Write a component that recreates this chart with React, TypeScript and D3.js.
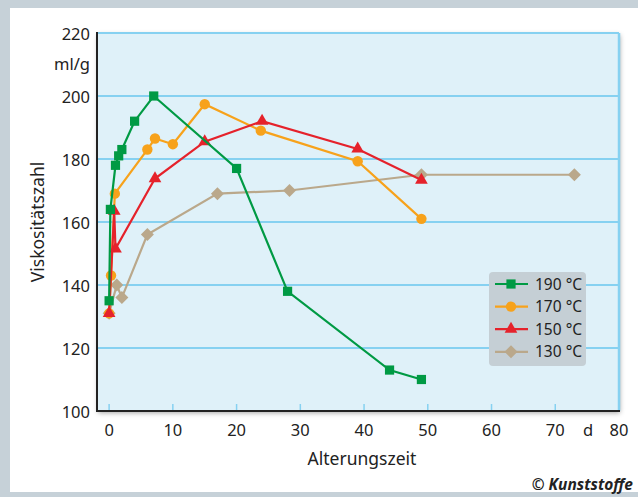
import * as d3 from "d3";

type Pt = [number, number];

const xTicks = [0, 10, 20, 30, 40, 50, 60, 70, 80];
const yTicks = [100, 120, 140, 160, 180, 200, 220];

// Alterungszeit (d), Viskositätszahl (ml/g)
const s190: Pt[] = [[0, 135], [0.2, 164], [1, 178], [1.5, 181], [2, 183], [4, 192], [7, 200], [20, 177], [28, 138], [44, 113], [49, 110]];
const s170: Pt[] = [[0, 131], [0.3, 143], [0.9, 169], [6, 183], [7.2, 186.5], [10, 184.7], [15, 197.4], [23.8, 189], [39, 179.3], [49, 161]];
const s150: Pt[] = [[0, 131], [0.8, 163.5], [1, 151.5], [7.2, 173.8], [15, 185.5], [24, 192], [39, 183.2], [49, 173.3]];
const s130: Pt[] = [[0, 131], [1.2, 140], [2, 136], [6, 156], [17, 169], [28.3, 170], [49, 175], [73, 175]];

const series = [
  { label: "190 °C", data: s190, color: "#009a44", marker: "square" },
  { label: "170 °C", data: s170, color: "#f7a21b", marker: "circle" },
  { label: "150 °C", data: s150, color: "#e5222b", marker: "triangle" },
  { label: "130 °C", data: s130, color: "#baa88b", marker: "diamond" },
];
const drawOrder = [3, 1, 2, 0];

const W = 638;
const H = 497;
const left = 97, right = 619, top = 33, bottom = 411;
const font = "'Noto Sans', 'Open Sans', sans-serif";

const x = d3.scaleLinear().domain([-1.9, 80]).range([left, right]);
const y = d3.scaleLinear().domain([100, 220]).range([bottom, top]);

function Marker({ kind, cx, cy, color }: { kind: string; cx: number; cy: number; color: string }) {
  if (kind === "square") return <rect x={cx - 4.6} y={cy - 4.6} width={9.2} height={9.2} fill={color} />;
  if (kind === "circle") return <circle cx={cx} cy={cy} r={5.2} fill={color} />;
  if (kind === "triangle") {
    const p = d3.symbol(d3.symbolTriangle, 70)();
    return <path d={p ?? ""} transform={`translate(${cx},${cy})`} fill={color} />;
  }
  return <path d={`M${cx},${cy - 6.5}L${cx + 6.5},${cy}L${cx},${cy + 6.5}L${cx - 6.5},${cy}Z`} fill={color} />;
}

export default function App() {
  const line = d3.line<Pt>().x((d) => x(d[0])).y((d) => y(d[1]));
  const lx = 489, ly = 272;
  return (
    <svg width={W} height={H} style={{ position: "absolute", left: 0, top: 0, display: "block" }} fontFamily={font}>
      <defs>
        <filter id="sh" x="-10%" y="-10%" width="120%" height="120%">
          <feDropShadow dx="1" dy="2" stdDeviation="2.5" floodColor="#000" floodOpacity="0.35" />
        </filter>
        <clipPath id="clip">
          <rect x={left} y={top - 10} width={right - left + 10} height={bottom - top + 10} />
        </clipPath>
      </defs>
      <rect x={0} y={0} width={W} height={H} fill="#c6d1d8" />
      <rect x={10} y={8} width={W - 10} height={484} fill="#ffffff" />

      <rect x={left} y={top} width={right - left} height={bottom - top} fill="#dff1f9" filter="url(#sh)" />
      {yTicks.slice(1, -1).map((t) => (
        <line key={t} x1={left} x2={right} y1={y(t)} y2={y(t)} stroke="#86d1f1" strokeWidth={2} />
      ))}
      {xTicks.slice(0, -1).map((t) => (
        <line key={t} x1={x(t)} x2={x(t)} y1={bottom} y2={bottom - 7} stroke="#86d1f1" strokeWidth={1.5} />
      ))}
      <line x1={left} x2={right} y1={top} y2={top} stroke="#86d1f1" strokeWidth={2} />
      <line x1={right} x2={right} y1={top} y2={bottom} stroke="#86d1f1" strokeWidth={2.5} />
      <line x1={left} x2={right + 1} y1={bottom} y2={bottom} stroke="#222" strokeWidth={2} />
      <line x1={left} x2={left} y1={top - 1} y2={bottom + 1} stroke="#222" strokeWidth={2} />

      <g clipPath="url(#clip)">
        {drawOrder.map((i) => {
          const s = series[i];
          return (
            <g key={s.label}>
              <path d={line(s.data) ?? ""} fill="none" stroke={s.color} strokeWidth={2.2} />
              {s.data.map((d, j) => (
                <Marker key={j} kind={s.marker} cx={x(d[0])} cy={y(d[1])} color={s.color} />
              ))}
            </g>
          );
        })}
      </g>

      {yTicks.map((t) => (
        <text key={t} x={90} y={y(t) + 6.5} textAnchor="end" fontSize={16.5} fill="#222">{t}</text>
      ))}
      <text x={90} y={y(210) + 5.5} textAnchor="end" fontSize={16.5} fill="#222">ml/g</text>
      {xTicks.map((t) => (
        <text key={t} x={x(t)} y={436} textAnchor="middle" fontSize={16.5} fill="#222">{t}</text>
      ))}
      <text x={588} y={436} textAnchor="middle" fontSize={16.5} fill="#222">d</text>
      <text x={362} y={465} textAnchor="middle" fontSize={17.5} fill="#222">Alterungszeit</text>
      <text transform="translate(44,222) rotate(-90)" textAnchor="middle" fontSize={17.5} fill="#222">Viskositätszahl</text>

      <rect x={lx} y={ly} width={97} height={94} rx={4} fill="#c5cfd5" />
      {series.map((s, i) => {
        const cy = 284 + i * 22.6;
        return (
          <g key={s.label}>
            <line x1={495} x2={528} y1={cy} y2={cy} stroke={s.color} strokeWidth={2.2} />
            <Marker kind={s.marker} cx={511} cy={cy} color={s.color} />
            <text x={535} y={cy + 5.5} fontSize={15.5} fill="#222">{s.label}</text>
          </g>
        );
      })}

      <text x={633} y={490} textAnchor="end" fontSize={15.5} fontWeight="bold" fontStyle="italic" fill="#222">© Kunststoffe</text>
    </svg>
  );
}
